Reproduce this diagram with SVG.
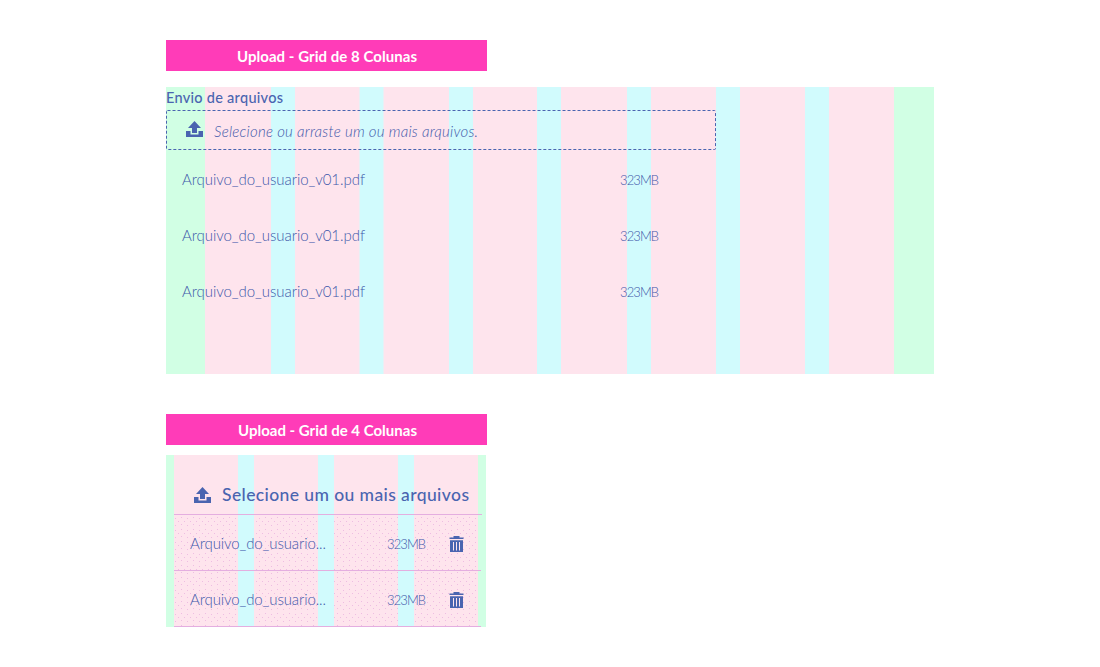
<svg xmlns="http://www.w3.org/2000/svg" width="1100" height="667" viewBox="0 0 1100 667">
<style>
text{font-family:"Lato","Open Sans","Liberation Sans",sans-serif;fill:#4a64b0}
.t{font-size:15px;font-weight:700;fill:#fff}
.f{font-size:15px;font-weight:300;fill:#3f58aa}
.s{font-size:13px;font-weight:300;fill:#3f58aa}
.g{fill:#d1ffe4}.p{fill:#fee4ed}.c{fill:#d1fbfd}
.l{stroke:#e4aee0;stroke-width:1;fill:none}
.i{fill:#4a64b0}
</style>
<defs>
<pattern id="dots" width="12" height="12" patternUnits="userSpaceOnUse">
<g fill="#eebde2"><rect x="1" y="1" width="1" height="1"/><rect x="7" y="2" width="1" height="1"/><rect x="4" y="5" width="1" height="1"/><rect x="10" y="5" width="1" height="1"/><rect x="1" y="8" width="1" height="1"/><rect x="7" y="9" width="1" height="1"/></g>
</pattern>
<g id="up"><path d="M8.500 0L15 7H11V12H6V7H2Z"/><path d="M0 10H4.500V13.500H12.500V10H17V16H0Z"/></g>
<g id="trash"><path d="M3.500 0H9.500V1.500H13.500V3H-0.500V1.500H3.500Z" transform="translate(1 0)"/><path fill-rule="evenodd" d="M1 4.200H14V16H1ZM4 6V14.500H5V6ZM7 6V14.500H8V6ZM10 6V14.500H11V6Z"/></g>
</defs>
<g id="grid8">
<rect class="g" x="166" y="87" width="768" height="287"/>
<rect class="p" x="205" y="87" width="689" height="287"/>
<rect class="c" x="271" y="87" width="24" height="287"/>
<rect class="c" x="359.500" y="87" width="24" height="287"/>
<rect class="c" x="449" y="87" width="24" height="287"/>
<rect class="c" x="537" y="87" width="24" height="287"/>
<rect class="c" x="627" y="87" width="24" height="287"/>
<rect class="c" x="716" y="87" width="24" height="287"/>
<rect class="c" x="805" y="87" width="24" height="287"/>
</g>
<g id="grid4">
<rect class="g" x="166" y="455" width="320" height="172"/>
<rect class="p" x="174" y="455" width="304" height="172"/>
<rect class="c" x="238" y="455" width="16" height="172"/>
<rect class="c" x="318" y="455" width="16" height="172"/>
<rect class="c" x="398" y="455" width="16" height="172"/>
<rect fill="url(#dots)" x="174" y="517" width="64" height="109"/>
<rect fill="url(#dots)" x="254" y="517" width="64" height="109"/>
<rect fill="url(#dots)" x="334" y="517" width="64" height="109"/>
<rect fill="url(#dots)" x="414" y="517" width="64" height="109"/>
</g>
<g id="title8"><rect x="166" y="40" width="321" height="31" fill="#ff3cb8"/><text class="t" x="237" y="62" textLength="180" lengthAdjust="spacing">Upload - Grid de 8 Colunas</text></g>
<g id="title4"><rect x="166" y="414" width="321" height="31" fill="#ff3cb8"/><text class="t" x="238" y="436" textLength="179" lengthAdjust="spacing">Upload - Grid de 4 Colunas</text></g>
<g id="upload8">
<text x="166" y="103" font-size="14.500" style="font-weight:500" textLength="117" lengthAdjust="spacing">Envio de arquivos</text>
<rect x="166.500" y="110.500" width="549" height="39" rx="1" fill="none" stroke="#4a64b0" stroke-dasharray="3 2"/>
<use href="#up" class="i" x="186" y="121"/>
<text x="214" y="137" font-size="15" font-style="italic" style="font-weight:300;fill:#3f58aa" textLength="264" lengthAdjust="spacing">Selecione ou arraste um ou mais arquivos.</text>
</g>
<g id="file8-1"><text class="f" x="182" y="185" textLength="183" lengthAdjust="spacing">Arquivo_do_usuario_v01.pdf</text><text class="s" x="620" y="185" textLength="39" lengthAdjust="spacing">323MB</text></g>
<g id="file8-2"><text class="f" x="182" y="241" textLength="183" lengthAdjust="spacing">Arquivo_do_usuario_v01.pdf</text><text class="s" x="620" y="241" textLength="39" lengthAdjust="spacing">323MB</text></g>
<g id="file8-3"><text class="f" x="182" y="297" textLength="183" lengthAdjust="spacing">Arquivo_do_usuario_v01.pdf</text><text class="s" x="620" y="297" textLength="39" lengthAdjust="spacing">323MB</text></g>
<g id="upload4">
<use href="#up" class="i" x="194" y="487"/>
<text x="222" y="501" font-size="17.500" style="font-weight:500" textLength="247" lengthAdjust="spacing">Selecione um ou mais arquivos</text>
<path class="l" d="M174 514.500H482"/>
</g>
<g id="file4-1"><text class="f" x="190" y="549" textLength="136" lengthAdjust="spacing">Arquivo_do_usuario...</text><text class="s" x="387" y="549" textLength="39" lengthAdjust="spacing">323MB</text><use href="#trash" class="i" x="449" y="536"/><path class="l" d="M174 570.500H481"/></g>
<g id="file4-2"><text class="f" x="190" y="605" textLength="136" lengthAdjust="spacing">Arquivo_do_usuario...</text><text class="s" x="387" y="605" textLength="39" lengthAdjust="spacing">323MB</text><use href="#trash" class="i" x="449" y="592"/><path class="l" d="M174 626.500H481"/></g>
<g id="connectors"></g>
</svg>
